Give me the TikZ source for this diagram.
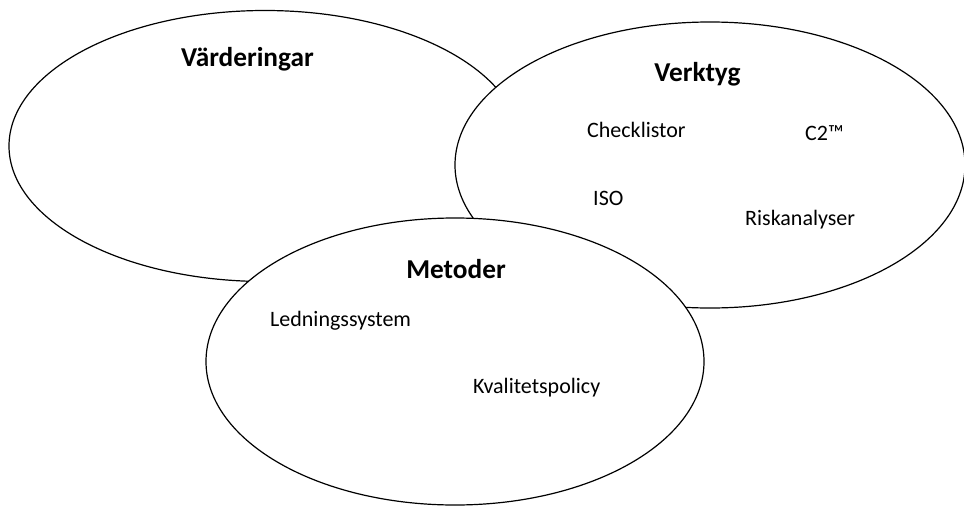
\documentclass[tikz,border=0pt]{standalone}
\usepackage{fontspec}
\setmainfont{Carlito}
\usetikzlibrary{shapes.geometric}

\tikzset{
  area/.style={ellipse, draw=black, fill=white, line width=1.2pt, inner sep=0pt},
  heading/.style={anchor=base, inner sep=0pt, font=\fontsize{27.3}{32}\selectfont\bfseries},
  item/.style={anchor=base west, inner sep=0pt, font=\fontsize{22}{26}\selectfont}
}

\begin{document}
\begin{tikzpicture}[x=1pt, y=-1pt]
  \useasboundingbox (0,0) rectangle (964,506);

  % the three overlapping areas, back to front
  \node[area, minimum width=512pt, minimum height=271pt] (values) at (265,146) {};
  \node[area, minimum width=510pt, minimum height=286pt] (tools) at (710,165) {};
  \node[area, minimum width=498pt, minimum height=287pt] (methods) at (455,361.5) {};

  % headings
  \node[heading] (valuesT) at (247.5,66) {Värderingar};
  \node[heading] (toolsT) at (697.5,81) {Verktyg};
  \node[heading] (methodsT) at (456,278) {Metoder};

  % tools
  \node[item] (check) at (587,137.3) {Checklistor};
  \node[item] (c2) at (805,140.7) {C2™};
  \node[item] (iso) at (593,205) {ISO};
  \node[item] (risk) at (745,225.7) {Riskanalyser};

  % methods
  \node[item] (mgmt) at (270,326.7) {Ledningssystem};
  \node[item] (quality) at (473,393) {Kvalitetspolicy};
\end{tikzpicture}
\end{document}
